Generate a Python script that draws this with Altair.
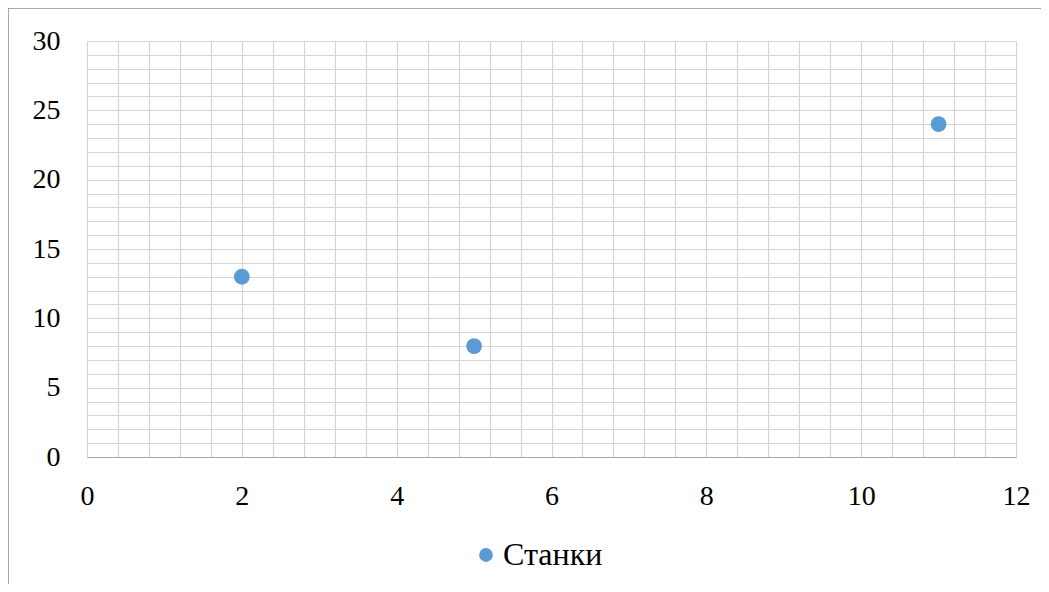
import altair as alt
import pandas as pd

x_vals = [2, 5, 11]
y_vals = [13, 8, 24]
series_name = "Станки"

df = pd.DataFrame({"x": x_vals, "y": y_vals, "series": [series_name] * len(x_vals)})

x_grid = [round(i * 0.4, 1) for i in range(0, 31)]
y_grid = list(range(0, 31))

FONT = "'Liberation Serif', 'Times New Roman', serif"

points = alt.Chart(df).mark_circle(size=250, opacity=1).encode(
    x=alt.X("x:Q", scale=alt.Scale(domain=[0, 12], nice=False),
            axis=alt.Axis(values=x_grid, title=None, ticks=False,
                          labelExpr="abs(datum.value % 2) < 0.001 ? format(datum.value, 'd') : ''",
                          labelPadding=25, domainColor="#A6A6A6", labelFlush=False)),
    y=alt.Y("y:Q", scale=alt.Scale(domain=[0, 30], nice=False),
            axis=alt.Axis(values=y_grid, title=None, ticks=False, domain=False,
                          labelExpr="datum.value % 5 == 0 ? format(datum.value, 'd') : ''",
                          labelPadding=27)),
    color=alt.Color("series:N", scale=alt.Scale(range=["#5B9BD5"]),
                    legend=alt.Legend(title=None, orient="none", legendX=383, legendY=498,
                                      symbolSize=190, labelFontSize=32, labelFont=FONT,
                                      labelOffset=1,
                                      labelColor="#000000", symbolType="circle")),
)

border = alt.Chart(alt.Data(values=[{"a": 1}])).mark_rule(color="#8C8C8C", strokeWidth=1.5).encode(
    x=alt.value(-79), x2=alt.value(1100), y=alt.value(-33)
)
border_left = alt.Chart(alt.Data(values=[{"a": 1}])).mark_rule(color="#8C8C8C", strokeWidth=1.5).encode(
    x=alt.value(-79), y=alt.value(-33), y2=alt.value(700)
)

chart = alt.layer(points, border, border_left).properties(
    width=929, height=416,
    autosize=alt.AutoSizeParams(type="none"),
    padding={"left": 79, "top": 33, "right": 25, "bottom": 127},
).configure_axis(
    labelFont=FONT, labelFontSize=28, labelColor="#000000",
    gridColor="#D4D4D4", gridWidth=1.2,
).configure_view(stroke=None)

chart.save("out.html", embed_options={"renderer": "svg", "actions": False})
